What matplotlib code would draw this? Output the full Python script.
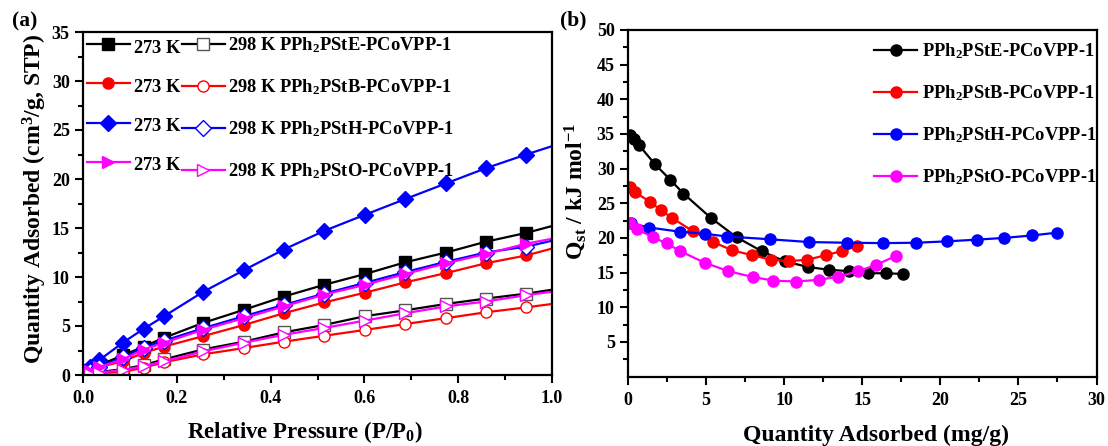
import matplotlib
matplotlib.use("Agg")
import matplotlib.pyplot as plt
from matplotlib.ticker import MultipleLocator, FuncFormatter

plt.rcParams['font.family'] = ['Liberation Serif', 'DejaVu Serif']
plt.rcParams['font.weight'] = 'bold'
plt.rcParams['mathtext.fontset'] = 'custom'
plt.rcParams['mathtext.rm'] = 'Liberation Serif:bold'
plt.rcParams['mathtext.it'] = 'Liberation Serif:bold'
plt.rcParams['mathtext.bf'] = 'Liberation Serif:bold'
plt.rcParams['mathtext.default'] = 'rm'

# ---------- Panel (a) data ----------
P = [0.005, 0.015, 0.034, 0.085, 0.129, 0.173, 0.255, 0.343, 0.428, 0.514,
     0.601, 0.687, 0.774, 0.859, 0.945, 1.0]
E273 = [0.2, 0.5, 1.0, 2.0, 2.9, 3.8, 5.3, 6.65, 8.0, 9.2, 10.3, 11.5, 12.5, 13.6, 14.5, 15.2]
E298 = [0.05, 0.15, 0.3, 0.6, 1.0, 1.6, 2.6, 3.4, 4.35, 5.1, 6.0, 6.6, 7.25, 7.8, 8.3, 8.7]
B273 = [0.15, 0.4, 0.8, 1.4, 2.26, 2.9, 3.95, 5.1, 6.3, 7.4, 8.4, 9.45, 10.4, 11.4, 12.2, 12.9]
B298 = [0.02, 0.08, 0.2, 0.3, 0.75, 1.3, 2.1, 2.75, 3.4, 4.0, 4.6, 5.2, 5.8, 6.4, 6.9, 7.25]
H273 = [0.3, 0.8, 1.5, 3.3, 4.7, 6.0, 8.45, 10.7, 12.8, 14.7, 16.35, 17.95, 19.55, 21.1, 22.5, 23.35]
H298 = [0.15, 0.4, 0.8, 1.8, 2.8, 3.5, 4.75, 6.0, 7.15, 8.3, 9.4, 10.5, 11.55, 12.5, 13.1, 13.7]
O273 = [0.15, 0.4, 0.8, 1.6, 2.6, 3.3, 4.6, 5.8, 7.0, 8.2, 9.2, 10.3, 11.4, 12.35, 13.4, 13.9]
O298 = [0.03, 0.1, 0.25, 0.5, 0.9, 1.4, 2.4, 3.3, 4.1, 4.8, 5.55, 6.3, 7.0, 7.5, 8.15, 8.5]

names = ['PPh$_2$PStE-PCoVPP-1', 'PPh$_2$PStB-PCoVPP-1',
         'PPh$_2$PStH-PCoVPP-1', 'PPh$_2$PStO-PCoVPP-1']
colors = ['#000000', '#ff0000', '#0000ff', '#ff00ff']
markers_a = ['s', 'o', 'D', '>']

# ---------- Panel (b) data ----------
E_x = [0.1, 0.4, 0.7, 1.7, 2.7, 3.55, 5.3, 6.95, 8.55, 10.05, 11.55, 12.85, 14.15, 15.4, 16.5, 17.6]
E_q = [34.9, 34.3, 33.4, 30.7, 28.4, 26.4, 22.9, 20.1, 18.1, 16.6, 15.8, 15.4, 15.2, 14.9, 14.9, 14.8]
B_x = [0.13, 0.45, 1.41, 2.11, 2.8, 4.14, 5.46, 6.68, 7.96, 9.14, 10.3, 11.49, 12.66, 13.69, 14.65]
B_q = [27.3, 26.6, 25.2, 24.0, 22.9, 21.0, 19.4, 18.2, 17.5, 16.85, 16.65, 16.85, 17.5, 18.1, 18.8]
H_x = [0.2, 1.35, 3.3, 4.9, 6.35, 9.1, 11.6, 14.05, 16.35, 18.45, 20.4, 22.35, 24.1, 25.85, 27.45]
H_q = [22.1, 21.5, 20.9, 20.6, 20.2, 19.8, 19.4, 19.3, 19.25, 19.3, 19.5, 19.75, 20.0, 20.35, 20.75]
O_x = [0.1, 0.55, 1.58, 2.48, 3.33, 4.93, 6.43, 8.0, 9.3, 10.75, 12.2, 13.47, 14.75, 15.88, 17.16]
O_q = [22.2, 21.3, 20.1, 19.2, 18.1, 16.4, 15.2, 14.35, 13.85, 13.7, 13.95, 14.4, 15.2, 16.1, 17.4]

W, H = 1108, 446
fig = plt.figure(figsize=(W / 100, H / 100), dpi=100)

def px_axes(l, t, r, b):
    return fig.add_axes([l / W, 1 - b / H, (r - l) / W, (b - t) / H])

axa = px_axes(83, 32, 552, 375)
axb = px_axes(628, 30, 1096.5, 376.5)

FS_TICK = 13
FS_LEG = 13.3
LW = 1.6

def style(ax):
    for s in ax.spines.values():
        s.set_linewidth(1.6)
    ax.tick_params(which='both', direction='out', top=False, right=False,
                   labelsize=FS_TICK, width=1.5)
    ax.tick_params(which='major', length=6)
    ax.tick_params(which='minor', length=3.5)
    ax.tick_params(axis='x', which='major', pad=5)
    ax.tick_params(axis='y', which='major', pad=3.5)
    for lab in ax.get_xticklabels() + ax.get_yticklabels():
        lab.set_fontweight('bold')

# ---------- panel a ----------
s273 = [E273, B273, H273, O273]
s298 = [E298, B298, H298, O298]
h1, h2 = [], []
for i in range(4):
    l1, = axa.plot(P, s273[i], color=colors[i], marker=markers_a[i], ms=8,
                   lw=LW, markevery=slice(0, len(P) - 1))
    l2, = axa.plot(P, s298[i], color=colors[i], marker=markers_a[i], ms=8,
                   lw=LW, mfc='white', markevery=slice(0, len(P) - 1),
                   mec=('#555555' if i == 0 else colors[i]))
    h1.append(l1)
    h2.append(l2)

axa.set_xlim(0, 1.0)
axa.set_ylim(0, 35)
axa.xaxis.set_major_locator(MultipleLocator(0.2))
axa.xaxis.set_minor_locator(MultipleLocator(0.1))
axa.yaxis.set_major_locator(MultipleLocator(5))
axa.yaxis.set_minor_locator(MultipleLocator(2.5))
axa.xaxis.set_major_formatter(FuncFormatter(lambda v, p: f"{v:.1f}"))
style(axa)

leg_a = axa.legend(h1 + h2,
                   ['273 K$_{\\,}$'] * 4 + ['298 K ' + n for n in names],
                   ncol=2, loc='upper left', bbox_to_anchor=(0.0, 1.0),
                   frameon=False, fontsize=FS_LEG, handlelength=2.35,
                   handletextpad=0.15, columnspacing=0.0, labelspacing=1.2,
                   borderpad=0.2, borderaxespad=0.0)
for t in leg_a.get_texts():
    t.set_fontweight('bold')

# ---------- panel b ----------
bx = [E_x, B_x, H_x, O_x]
bq = [E_q, B_q, H_q, O_q]
hb = []
for i in range(4):
    l, = axb.plot(bx[i], bq[i], color=colors[i], marker='o', ms=8, lw=LW)
    hb.append(l)
axb.set_xlim(0, 30)
axb.set_ylim(0, 50)
axb.xaxis.set_major_locator(MultipleLocator(5))
axb.xaxis.set_minor_locator(MultipleLocator(2.5))
axb.set_yticks([5, 10, 15, 20, 25, 30, 35, 40, 45, 50])
axb.set_yticks([2.5, 7.5, 12.5, 17.5, 22.5, 27.5, 32.5, 37.5, 42.5, 47.5], minor=True)
style(axb)
leg_b = axb.legend(hb, names, loc='upper left', bbox_to_anchor=(0.501, 1.0),
                   frameon=False, fontsize=FS_LEG, handlelength=2.3,
                   handletextpad=0.3, labelspacing=1.2,
                   borderpad=0.63, borderaxespad=0.0)
for t in leg_b.get_texts():
    t.set_fontweight('bold')

# ---------- axis labels & panel tags (pixel placed) ----------
def ftext(x, y, s, **kw):
    return fig.text(x / W, 1 - y / H, s, fontweight='bold', **kw)

ftext(305, 438, 'Relative Pressure (P/P$_0$)', fontsize=16.5, ha='center', va='baseline')
ftext(35, 199, 'Quantity Adsorbed (cm$^3$/g, STP)', fontsize=17, rotation=90,
      ha='center', va='center')
ftext(876, 441, 'Quantity Adsorbed (mg/g)', fontsize=17, ha='center', va='baseline')
ftext(575, 191, 'Q$_{st}$ / kJ mol$^{-1}$', fontsize=17, rotation=90,
      ha='center', va='center')
ftext(12, 21, '(a)', fontsize=15.5, ha='left', va='center')
ftext(560, 20, '(b)', fontsize=15.5, ha='left', va='center')

fig.savefig('out.png', dpi=100)
